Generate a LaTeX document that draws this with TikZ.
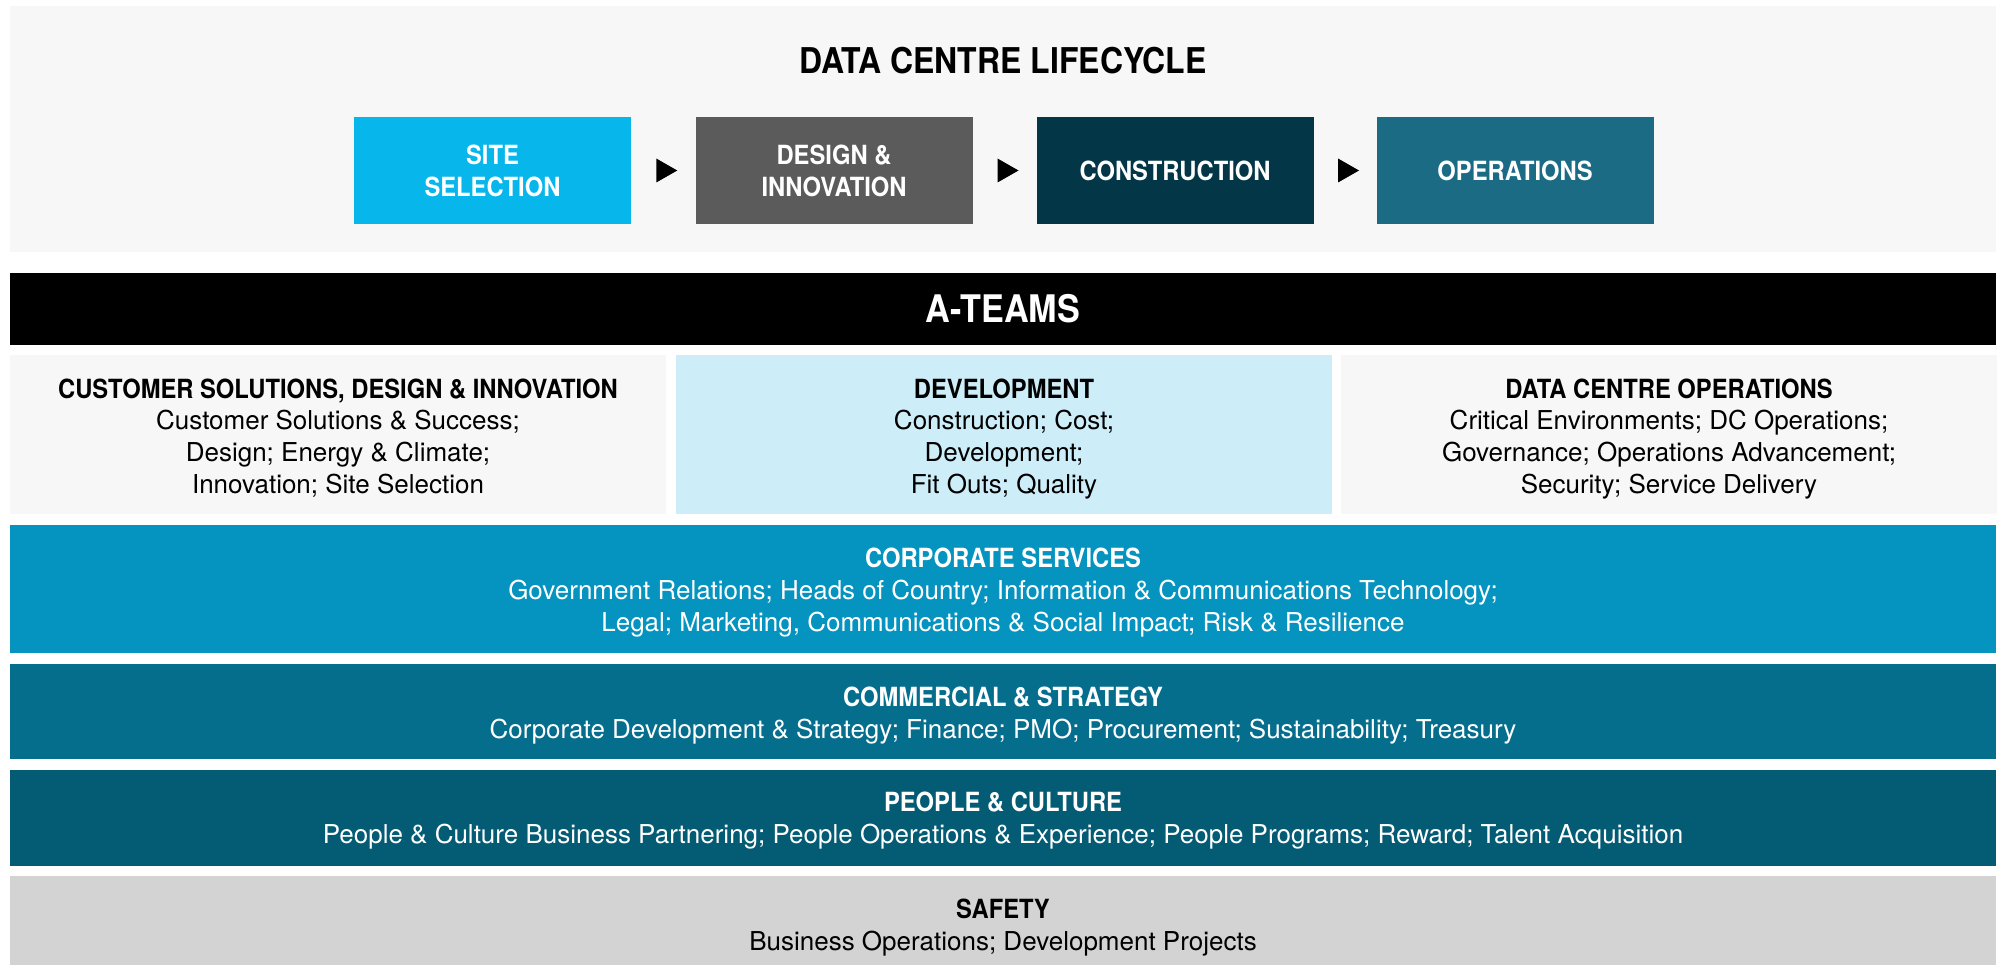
\documentclass[tikz,border=0pt]{standalone}
\usepackage{fontspec}
\setmainfont{TeX Gyre Heros}
\newfontfamily\condfont[FakeStretch=0.9]{TeX Gyre Heros}
\usetikzlibrary{shapes.geometric}
\definecolor{paper}{HTML}{F7F7F7}
\definecolor{site}{HTML}{07B6EB}
\definecolor{design}{HTML}{5B5B5B}
\definecolor{build}{HTML}{033747}
\definecolor{ops}{HTML}{1C6B84}
\definecolor{dev}{HTML}{CDEEF9}
\definecolor{corp}{HTML}{0593BF}
\definecolor{comm}{HTML}{056E8D}
\definecolor{people}{HTML}{045B74}
\definecolor{safety}{HTML}{D3D3D3}
\newcommand\hd[1]{{\condfont\bfseries\fontsize{26.4}{31.8}\selectfont #1}}
\begin{document}
\begin{tikzpicture}[x=1pt,y=-1pt,
    panel/.style 2 args={inner sep=0pt, outer sep=0pt, minimum width=#1, minimum height=#2},
    stage/.style={panel={277}{107}, text=white, align=center,
      font=\condfont\bfseries\fontsize{26.4}{32}\selectfont},
    tri/.style={isosceles triangle, isosceles triangle stretches, fill=black,
      inner sep=0pt, minimum width=24pt, minimum height=21pt},
    label/.style={anchor=base, align=center, font=\fontsize{26}{31.6}\selectfont}]
  \useasboundingbox (0,0) rectangle (2004,965);
  % lifecycle
  \node[panel={1986}{246}, fill=paper] (life) at (1003,129) {};
  \node[anchor=base, font=\condfont\bfseries\fontsize{35.5}{40}\selectfont] (life-t) at (1003,74) {DATA CENTRE LIFECYCLE};
  \draw
    (492.5,170.5) node[stage, fill=site] (site) {SITE\\SELECTION}
    (834,170.5) node[stage, fill=design] (design) {DESIGN \&\\INNOVATION}
    (1175,170.5) node[stage, fill=build] (build) {CONSTRUCTION}
    (1515,170.5) node[stage, fill=ops] (ops) {OPERATIONS};
  \path (site) -- node[tri] (a1) {} (design);
  \path (design) -- node[tri] (a2) {} (build);
  \path (build) -- node[tri] (a3) {} (ops);
  % teams
  \node[panel={1986}{72}, fill=black, text=white,
    font=\condfont\bfseries\fontsize{38}{40}\selectfont] (ateams) at (1003,309) {A-TEAMS};
  \draw
    (338,434.5) node[panel={656}{159}, fill=paper] (csdi) {}
    (1004,434.5) node[panel={656}{159}, fill=dev] (dev) {}
    (1669,434.5) node[panel={656}{159}, fill=paper] (dco) {};
  % base anchor sits on the last line
  \node[label] (csdi-t) at (338,493) {\hd{CUSTOMER SOLUTIONS, DESIGN \& INNOVATION}\\
    Customer Solutions \& Success;\\ Design; Energy \& Climate;\\ Innovation; Site Selection};
  \node[label] (dev-t) at (1004,493) {\hd{DEVELOPMENT}\\
    Construction; Cost;\\ Development;\\ Fit Outs; Quality};
  \node[label] (dco-t) at (1669,493) {\hd{DATA CENTRE OPERATIONS}\\
    Critical Environments; DC Operations;\\ Governance; Operations Advancement;\\ Security; Service Delivery};
  % shared rows
  \draw
    (1003,589) node[panel={1986}{128}, fill=corp] (corp) {}
    (1003,711.5) node[panel={1986}{95}, fill=comm] (comm) {}
    (1003,818) node[panel={1986}{96}, fill=people] (people) {}
    (1003,920.5) node[panel={1986}{89}, fill=safety] (safety) {};
  \node[label, text=white] (corp-t) at (1003,631) {\hd{CORPORATE SERVICES}\\
    Government Relations; Heads of Country; Information \& Communications Technology;\\
    Legal; Marketing, Communications \& Social Impact; Risk \& Resilience};
  \node[label, text=white] (comm-t) at (1003,738) {\hd{COMMERCIAL \& STRATEGY}\\
    Corporate Development \& Strategy; Finance; PMO; Procurement; Sustainability; Treasury};
  \node[label, text=white] (people-t) at (1003,843) {\hd{PEOPLE \& CULTURE}\\
    People \& Culture Business Partnering; People Operations \& Experience; People Programs; Reward; Talent Acquisition};
  \node[label] (safety-t) at (1003,950) {\hd{SAFETY}\\
    Business Operations; Development Projects};
\end{tikzpicture}
\end{document}
